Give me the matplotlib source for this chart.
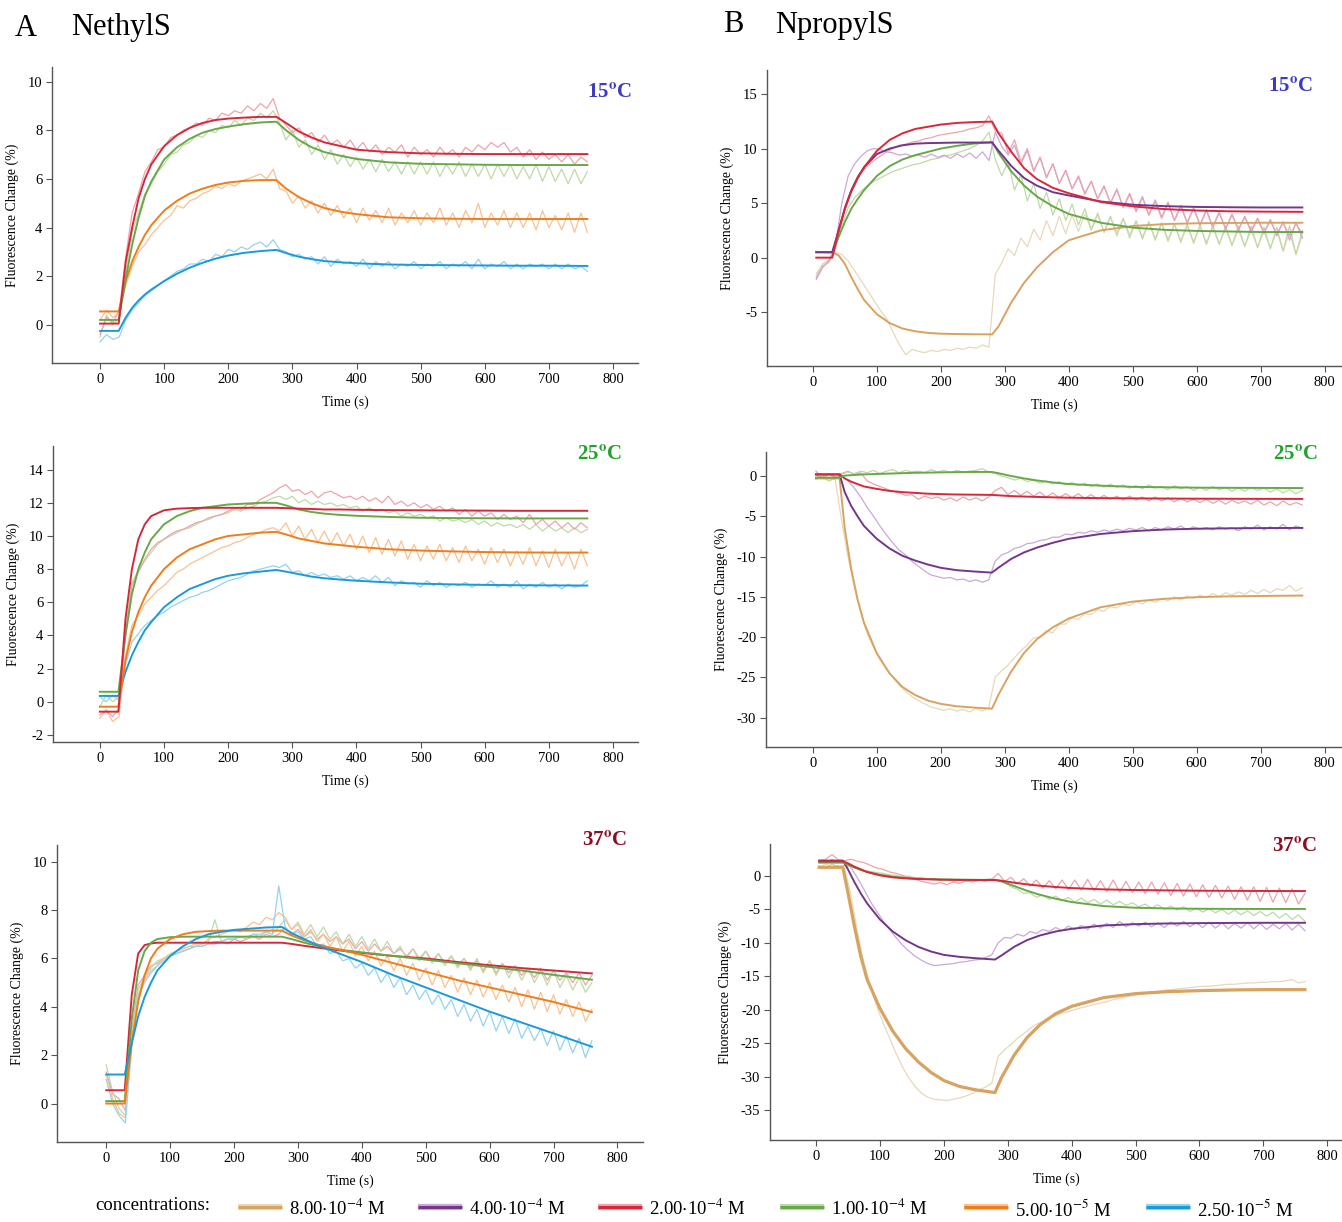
import numpy as np
import matplotlib.pyplot as plt
from matplotlib.lines import Line2D

plt.rcParams['font.family'] = ['Liberation Serif', 'DejaVu Serif']
plt.rcParams['mathtext.fontset'] = 'stix'
plt.rcParams['axes.unicode_minus'] = False

# ---- time axes ----
RAW_T_A = np.arange(0, 761, 10)
RAW_T_B = np.arange(5, 766, 10)
FIT_T_A = [0, 29, 40, 50, 60, 70, 80, 100, 120, 140, 160, 180, 200, 225, 250, 275,
           290, 310, 330, 350, 375, 400, 450, 500, 550, 600, 650, 700, 760]
FIT_T_B1 = [5, 30, 40, 50, 60, 70, 80, 100, 120, 140, 160, 180, 200, 225, 250, 280,
            290, 310, 330, 350, 375, 400, 450, 500, 550, 600, 650, 700, 765]
FIT_T_B = [5, 42, 50, 60, 70, 80, 100, 120, 140, 160, 180, 200, 225, 250, 280,
           290, 310, 330, 350, 375, 400, 450, 500, 550, 600, 650, 700, 765]

# ---- A: NethylS, 15 C ----
A15_RED_FIT = [0.05, 0.05, 2.6, 4.0, 5.2, 6.0, 6.6, 7.35, 7.8, 8.1, 8.3, 8.42, 8.48, 8.52, 8.55, 8.55,
               8.3, 7.95, 7.7, 7.5, 7.35, 7.2, 7.1, 7.05, 7.03, 7.02, 7.02, 7.02, 7.02]
A15_GREEN_FIT = [0.2, 0.2, 1.9, 3.3, 4.4, 5.3, 5.9, 6.8, 7.3, 7.65, 7.9, 8.05, 8.15, 8.25, 8.32, 8.35,
                 8.0, 7.6, 7.3, 7.1, 6.95, 6.82, 6.68, 6.62, 6.6, 6.58, 6.57, 6.57, 6.57]
A15_ORANGE_FIT = [0.55, 0.55, 1.8, 2.6, 3.2, 3.7, 4.1, 4.7, 5.1, 5.4, 5.6, 5.75, 5.85, 5.92, 5.95, 5.95,
                  5.6, 5.25, 5.0, 4.8, 4.65, 4.55, 4.42, 4.38, 4.36, 4.35, 4.35, 4.35, 4.35]
A15_BLUE_FIT = [-0.25, -0.25, 0.3, 0.7, 1.0, 1.25, 1.45, 1.8, 2.1, 2.35, 2.55, 2.72, 2.85, 2.96, 3.03, 3.08,
                2.95, 2.8, 2.7, 2.62, 2.57, 2.53, 2.48, 2.46, 2.45, 2.44, 2.43, 2.43, 2.42]
A15_RED_RAW = [-0.4, 0.3, 0.1, 0.6, 2.8, 4.6, 5.4, 6.3, 6.7, 7.2, 7.3,
               7.7, 7.8, 8.0, 8.1, 8.3, 8.2, 8.5, 8.4, 8.7, 8.6, 8.8,
               8.7, 9.0, 8.8, 9.1, 8.9, 9.3, 8.5, 8.2, 7.9, 8.1, 7.7,
               7.9, 7.5, 7.8, 7.4, 7.6, 7.3, 7.6, 7.2, 7.5, 7.1, 7.4,
               7.0, 7.3, 7.1, 7.4, 6.9, 7.3, 7.0, 7.2, 6.9, 7.3, 7.0,
               7.2, 6.9, 7.3, 7.1, 7.4, 7.2, 7.5, 7.3, 7.5, 7.1, 7.3,
               6.9, 7.2, 6.8, 7.1, 6.8, 7.0, 6.7, 7.0, 6.6, 6.9, 6.7]
A15_GREEN_RAW = [-0.5, 0.4, 0.0, 0.3, 2.2, 3.8, 4.6, 5.4, 5.8, 6.3, 6.6,
                 7.0, 7.1, 7.4, 7.5, 7.8, 7.7, 8.0, 7.9, 8.2, 8.1, 8.4,
                 8.2, 8.5, 8.4, 8.7, 8.5, 8.8, 8.3, 7.6, 8.0, 7.3, 7.6,
                 7.0, 7.4, 6.8, 7.2, 6.6, 7.0, 6.5, 6.9, 6.4, 6.8, 6.3,
                 6.8, 6.3, 6.7, 6.2, 6.7, 6.2, 6.7, 6.2, 6.7, 6.1, 6.6,
                 6.2, 6.7, 6.1, 6.6, 6.1, 6.6, 6.0, 6.6, 6.1, 6.6, 6.0,
                 6.5, 6.0, 6.6, 5.9, 6.5, 5.9, 6.4, 5.8, 6.4, 5.8, 6.3]
A15_ORANGE_RAW = [0.2, 0.6, 0.3, 0.5, 1.6, 2.4, 3.0, 3.3, 3.7, 4.0, 4.3,
                  4.5, 4.9, 4.8, 5.1, 5.2, 5.4, 5.5, 5.7, 5.6, 5.8, 5.7,
                  5.9, 6.0, 6.1, 6.2, 6.0, 6.4, 5.6, 5.5, 5.0, 5.3, 4.8,
                  5.1, 4.6, 5.0, 4.5, 4.9, 4.4, 4.8, 4.2, 4.8, 4.3, 4.7,
                  4.2, 4.8, 4.1, 4.6, 4.2, 4.7, 4.1, 4.6, 4.2, 4.8, 4.1,
                  4.6, 4.0, 4.7, 4.2, 5.0, 4.0, 4.6, 4.1, 4.7, 4.0, 4.6,
                  4.0, 4.6, 3.9, 4.7, 4.0, 4.5, 3.9, 4.6, 3.8, 4.6, 3.8]
A15_BLUE_RAW = [-0.7, -0.4, -0.6, -0.5, 0.2, 0.6, 0.9, 1.2, 1.4, 1.6, 1.8,
                2.0, 2.2, 2.3, 2.5, 2.5, 2.7, 2.6, 2.9, 2.8, 3.1, 3.0,
                3.2, 3.1, 3.3, 3.4, 3.2, 3.5, 3.1, 3.0, 2.8, 2.9, 2.7,
                2.8, 2.5, 2.8, 2.4, 2.7, 2.5, 2.6, 2.4, 2.7, 2.3, 2.6,
                2.4, 2.6, 2.3, 2.5, 2.4, 2.6, 2.3, 2.5, 2.4, 2.6, 2.3,
                2.5, 2.4, 2.6, 2.3, 2.7, 2.3, 2.5, 2.4, 2.6, 2.3, 2.5,
                2.3, 2.5, 2.4, 2.5, 2.3, 2.5, 2.3, 2.5, 2.3, 2.4, 2.2]

# ---- A: NethylS, 25 C ----
A25_RED_FIT = [-0.6, -0.6, 5.0, 8.0, 9.8, 10.7, 11.2, 11.55, 11.65, 11.68, 11.7, 11.7, 11.7, 11.7, 11.7, 11.7,
               11.68, 11.65, 11.63, 11.6, 11.6, 11.58, 11.56, 11.55, 11.54, 11.53, 11.52, 11.52, 11.52]
A25_GREEN_FIT = [0.6, 0.6, 4.0, 6.5, 8.0, 9.0, 9.8, 10.7, 11.2, 11.5, 11.7, 11.8, 11.9, 11.95, 12.0, 12.0,
                 11.85, 11.6, 11.45, 11.35, 11.27, 11.22, 11.15, 11.1, 11.08, 11.07, 11.06, 11.06, 11.06]
A25_ORANGE_FIT = [-0.3, -0.3, 2.5, 4.2, 5.4, 6.3, 7.0, 8.0, 8.7, 9.2, 9.5, 9.8, 10.0, 10.1, 10.2, 10.25,
                  10.1, 9.85, 9.7, 9.55, 9.45, 9.35, 9.2, 9.12, 9.07, 9.03, 9.01, 9.0, 9.0]
A25_BLUE_FIT = [0.35, 0.35, 1.8, 2.8, 3.6, 4.3, 4.8, 5.7, 6.3, 6.8, 7.1, 7.4, 7.6, 7.75, 7.85, 7.95,
                7.85, 7.7, 7.55, 7.45, 7.37, 7.3, 7.2, 7.12, 7.08, 7.05, 7.03, 7.02, 7.01]
A25_RED_RAW = [-0.8, -0.5, -0.9, -0.4, 4.0, 7.0, 7.8, 8.6, 9.2, 9.6, 9.8,
               10.1, 10.3, 10.4, 10.6, 10.8, 10.9, 11.1, 11.2, 11.3, 11.5, 11.7,
               11.6, 11.9, 11.9, 12.2, 12.4, 12.6, 12.9, 13.1, 12.7, 12.8, 12.5,
               12.7, 12.3, 12.6, 12.7, 12.5, 12.3, 12.4, 12.2, 12.4, 12.1, 12.3,
               12.0, 12.4, 11.9, 12.1, 11.8, 12.0, 11.7, 11.9, 11.6, 11.8, 11.5,
               11.7, 11.3, 11.6, 11.2, 11.5, 11.2, 11.4, 11.0, 11.3, 11.0, 11.2,
               10.8, 11.3, 10.7, 11.0, 10.6, 10.9, 10.5, 10.8, 10.4, 10.8, 10.5]
A25_GREEN_RAW = [-0.3, 0.4, 0.0, 0.3, 4.2, 7.2, 7.9, 8.5, 9.0, 9.5, 9.8,
                 10.0, 10.2, 10.4, 10.5, 10.7, 10.9, 11.0, 11.2, 11.3, 11.4, 11.6,
                 11.5, 11.7, 11.8, 12.0, 12.1, 12.3, 12.4, 12.2, 12.4, 12.0, 12.2,
                 11.9, 12.1, 11.9, 12.0, 11.8, 11.9, 11.7, 11.8, 11.5, 11.7, 11.5,
                 11.6, 11.4, 11.5, 11.2, 11.4, 11.2, 11.3, 11.1, 11.2, 10.9, 11.1,
                 10.9, 11.0, 10.8, 11.0, 10.7, 10.9, 10.6, 10.8, 10.6, 10.7, 10.5,
                 10.7, 10.4, 10.7, 10.3, 10.6, 10.3, 10.5, 10.2, 10.5, 10.2, 10.4]
A25_ORANGE_RAW = [-1.0, -0.5, -1.2, -0.9, 2.8, 4.6, 5.2, 5.9, 6.3, 6.7, 7.0,
                  7.4, 7.8, 8.0, 8.3, 8.5, 8.7, 8.9, 9.1, 9.3, 9.4, 9.6,
                  9.7, 9.9, 10.1, 10.2, 10.4, 10.5, 10.3, 10.8, 10.0, 10.6, 9.8,
                  10.4, 9.6, 10.3, 9.5, 10.2, 9.4, 10.1, 9.2, 10.0, 9.0, 9.9,
                  8.9, 9.8, 8.8, 9.7, 8.6, 9.5, 8.5, 9.4, 8.6, 9.5, 8.5,
                  9.3, 8.4, 9.4, 8.5, 9.2, 8.3, 9.3, 8.4, 9.2, 8.2, 9.1,
                  8.3, 9.3, 8.2, 9.1, 8.1, 9.2, 8.2, 9.0, 8.0, 9.2, 8.2]
A25_BLUE_RAW = [0.3, 0.0, 0.4, 0.1, 2.2, 3.6, 4.1, 4.6, 4.9, 5.2, 5.4,
                5.7, 5.9, 6.1, 6.3, 6.4, 6.6, 6.7, 6.9, 7.1, 7.3, 7.4,
                7.5, 7.7, 7.9, 8.0, 8.1, 8.2, 8.1, 8.3, 7.8, 7.9, 7.6,
                7.8, 7.6, 7.7, 7.5, 7.6, 7.4, 7.6, 7.3, 7.5, 7.3, 7.6,
                7.2, 7.5, 7.0, 7.3, 7.1, 7.2, 6.9, 7.3, 7.0, 7.2, 6.9,
                7.1, 7.0, 7.2, 6.9, 7.1, 7.0, 7.3, 6.9, 7.1, 6.9, 7.3,
                6.8, 7.1, 6.9, 7.2, 6.9, 7.1, 6.8, 7.1, 6.9, 7.0, 7.3]

# ---- A: NethylS, 37 C ----
A37_RED_FIT = [0.55, 0.55, 4.5, 6.2, 6.55, 6.62, 6.65, 6.65, 6.65, 6.65, 6.65, 6.65, 6.65, 6.65, 6.65, 6.65,
               6.6, 6.52, 6.45, 6.38, 6.3, 6.23, 6.1, 6.0, 5.85, 5.72, 5.6, 5.5, 5.38]
A37_GREEN_FIT = [0.1, 0.1, 3.5, 5.5, 6.3, 6.65, 6.8, 6.88, 6.9, 6.9, 6.9, 6.9, 6.9, 6.9, 6.9, 6.9,
                 6.8, 6.65, 6.52, 6.43, 6.33, 6.25, 6.1, 5.95, 5.8, 5.65, 5.5, 5.32, 5.12]
A37_ORANGE_FIT = [0.0, 0.0, 2.5, 4.2, 5.3, 6.0, 6.4, 6.8, 7.0, 7.1, 7.13, 7.15, 7.15, 7.15, 7.15, 7.15,
                  6.95, 6.75, 6.58, 6.45, 6.3, 6.15, 5.8, 5.45, 5.1, 4.8, 4.5, 4.2, 3.78]
A37_BLUE_FIT = [1.2, 1.2, 2.5, 3.6, 4.4, 5.0, 5.5, 6.1, 6.5, 6.8, 7.0, 7.1, 7.18, 7.23, 7.28, 7.3,
                7.05, 6.8, 6.55, 6.35, 6.1, 5.85, 5.3, 4.8, 4.3, 3.8, 3.35, 2.9, 2.35]
A37_RED_RAW = [1.3, 0.4, 0.2, -0.3, 3.0, 4.9, 5.3, 5.7, 5.8, 6.0, 6.1,
               6.2, 6.3, 6.4, 6.5, 6.5, 6.6, 6.6, 6.7, 6.6, 6.8, 6.7,
               6.8, 6.9, 6.8, 7.0, 6.9, 7.0, 7.3, 7.0, 7.2, 6.9, 7.1,
               6.8, 7.0, 6.7, 6.9, 6.6, 6.8, 6.4, 6.7, 6.3, 6.6, 6.3,
               6.5, 6.2, 6.4, 6.1, 6.4, 6.0, 6.3, 5.9, 6.2, 5.8, 6.1,
               5.7, 6.0, 5.6, 5.9, 5.5, 5.9, 5.4, 5.8, 5.4, 5.7, 5.3,
               5.6, 5.2, 5.6, 5.1, 5.5, 5.1, 5.4, 5.0, 5.4, 4.9, 5.3]
A37_GREEN_RAW = [1.6, 0.5, -0.2, -0.5, 2.8, 4.7, 5.2, 5.6, 5.9, 6.0, 6.2,
                 6.3, 6.4, 6.5, 6.5, 6.6, 6.7, 7.6, 6.7, 6.8, 6.8, 6.9,
                 6.8, 7.0, 6.9, 7.1, 7.0, 7.3, 7.6, 7.2, 7.5, 7.0, 7.4,
                 6.9, 7.3, 6.8, 7.1, 6.6, 7.0, 6.5, 6.9, 6.4, 6.8, 6.3,
                 6.7, 6.2, 6.5, 6.0, 6.4, 5.9, 6.3, 5.8, 6.2, 5.7, 6.1,
                 5.6, 6.0, 5.5, 6.0, 5.4, 5.9, 5.3, 5.8, 5.2, 5.7, 5.1,
                 5.6, 5.0, 5.5, 4.9, 5.5, 4.8, 5.3, 4.7, 5.2, 4.6, 5.0]
A37_ORANGE_RAW = [1.2, 0.2, -0.4, -0.6, 2.6, 4.5, 5.1, 5.5, 5.7, 6.0, 6.1,
                  6.3, 6.4, 6.5, 6.6, 6.6, 6.8, 6.9, 7.0, 7.1, 7.2, 7.1,
                  7.3, 7.5, 7.4, 7.7, 7.6, 7.9, 7.7, 7.2, 7.4, 6.9, 7.2,
                  6.7, 7.0, 6.5, 6.9, 6.3, 6.7, 6.1, 6.5, 5.9, 6.3, 5.7,
                  6.1, 5.5, 6.0, 5.3, 5.8, 5.1, 5.6, 4.9, 5.5, 4.8, 5.3,
                  4.6, 5.2, 4.5, 5.1, 4.4, 5.0, 4.3, 4.9, 4.2, 4.8, 4.0,
                  4.7, 3.9, 4.6, 3.8, 4.5, 3.7, 4.3, 3.6, 4.2, 3.4, 3.9]
A37_BLUE_RAW = [1.0, 0.0, -0.5, -0.8, 2.4, 4.4, 5.0, 5.4, 5.7, 5.9, 6.1,
                6.2, 6.3, 6.4, 6.5, 6.5, 6.6, 6.7, 6.7, 6.8, 6.8, 6.9,
                6.9, 7.0, 7.0, 7.1, 7.0, 9.0, 7.3, 7.0, 7.1, 6.8, 6.9,
                6.5, 6.6, 6.2, 6.3, 5.9, 6.0, 5.6, 5.8, 5.3, 5.6, 5.0,
                5.4, 4.8, 5.2, 4.5, 4.9, 4.3, 4.7, 4.1, 4.5, 3.9, 4.3,
                3.6, 4.1, 3.4, 3.9, 3.2, 3.8, 3.0, 3.6, 2.9, 3.5, 2.7,
                3.2, 2.6, 3.1, 2.4, 3.0, 2.2, 2.8, 2.1, 2.7, 1.9, 2.6]

# ---- B: NpropylS, 15 C ----
B15_RED_FIT = [0.0, 0.0, 2.5, 4.5, 6.1, 7.3, 8.3, 9.8, 10.8, 11.4, 11.8, 12.0, 12.2, 12.35, 12.42, 12.47,
               11.4, 9.7, 8.2, 7.2, 6.4, 5.9, 5.1, 4.7, 4.45, 4.32, 4.25, 4.22, 4.2]
B15_PURPLE_FIT = [0.5, 0.5, 2.5, 4.6, 6.2, 7.4, 8.3, 9.5, 10.0, 10.3, 10.45, 10.5, 10.52, 10.55, 10.55, 10.55,
                  9.8, 8.4, 7.3, 6.6, 6.0, 5.7, 5.15, 4.85, 4.72, 4.65, 4.62, 4.6, 4.6]
B15_GREEN_FIT = [0.5, 0.5, 1.9, 3.3, 4.5, 5.4, 6.2, 7.5, 8.4, 9.0, 9.4, 9.7, 10.0, 10.25, 10.45, 10.6,
                 9.6, 7.9, 6.6, 5.6, 4.7, 4.0, 3.2, 2.75, 2.55, 2.45, 2.4, 2.35, 2.35]
B15_TAN_FIT = [0.5, 0.5, 0.2, -0.6, -1.8, -2.9, -3.9, -5.2, -6.0, -6.5, -6.75, -6.9, -6.97, -7.0, -7.02, -7.03,
               -6.3, -4.1, -2.3, -0.9, 0.5, 1.6, 2.5, 2.9, 3.08, 3.15, 3.18, 3.2, 3.2]
B15_RED_RAW = [-1.8, -0.8, -0.4, 0.8, 3.5, 5.5, 6.8, 7.8, 8.4, 8.9, 9.3,
               9.7, 10.0, 10.3, 10.4, 10.6, 10.7, 10.9, 11.0, 11.2, 11.3, 11.4,
               11.5, 11.6, 11.8, 11.9, 12.1, 13.0, 11.6, 11.4, 9.6, 10.8, 8.8,
               10.0, 8.0, 9.2, 7.4, 8.6, 6.8, 8.0, 6.3, 7.4, 5.8, 7.0,
               5.4, 6.5, 5.0, 6.2, 4.6, 5.8, 4.2, 5.5, 3.9, 5.2, 3.6,
               5.0, 3.4, 4.7, 3.2, 4.5, 3.0, 4.3, 2.8, 4.1, 2.7, 3.9,
               2.6, 3.7, 2.5, 3.6, 2.3, 3.4, 2.2, 3.2, 2.0, 3.1, 2.2]
B15_PURPLE_RAW = [-2.0, -0.9, -0.3, 1.2, 5.0, 7.5, 8.6, 9.3, 9.8, 10.0, 9.9,
                  9.7, 9.6, 9.4, 9.5, 9.3, 9.4, 9.2, 9.5, 9.2, 9.4, 9.1,
                  9.5, 9.2, 9.6, 9.1, 9.7, 8.9, 11.5, 10.2, 9.4, 10.3, 8.6,
                  9.8, 7.9, 9.2, 7.3, 8.6, 6.8, 8.0, 6.3, 7.5, 5.9, 7.0,
                  5.4, 6.6, 5.0, 6.3, 4.6, 5.9, 4.3, 5.6, 3.9, 5.3, 3.7,
                  5.1, 3.4, 4.8, 3.2, 4.6, 3.0, 4.4, 2.8, 4.2, 2.6, 4.0,
                  2.5, 3.8, 2.3, 3.6, 2.2, 3.5, 2.0, 3.3, 1.6, 3.2, 1.8]
B15_GREEN_RAW = [-1.5, -0.6, -0.2, 0.9, 3.0, 4.6, 5.5, 6.1, 6.6, 7.0, 7.3,
                 7.6, 7.9, 8.1, 8.3, 8.5, 8.6, 8.8, 9.0, 9.1, 9.3, 9.4,
                 9.6, 9.8, 10.0, 10.3, 10.7, 11.5, 9.0, 7.5, 8.8, 6.2, 7.6,
                 5.2, 6.8, 4.5, 6.0, 3.9, 5.4, 3.4, 4.9, 3.0, 4.5, 2.6,
                 4.1, 2.3, 3.8, 2.0, 3.6, 1.8, 3.4, 1.7, 3.3, 1.6, 3.2,
                 1.5, 3.1, 1.4, 3.1, 1.3, 3.0, 1.2, 3.0, 1.2, 2.9, 1.1,
                 2.9, 1.0, 2.9, 0.9, 2.8, 0.8, 2.8, 0.6, 2.9, 0.3, 2.5]
B15_TAN_RAW = [0.6, 0.5, 0.4, 0.5, 0.3, -0.3, -1.2, -2.1, -3.0, -3.9, -4.8,
               -5.6, -6.8, -8.0, -8.9, -8.4, -8.6, -8.7, -8.5, -8.6, -8.4, -8.5,
               -8.3, -8.4, -8.2, -8.3, -8.0, -8.2, -1.5, -0.5, 0.8, 0.2, 1.8,
               1.0, 2.6, 1.6, 3.4, 2.0, 3.8, 2.2, 3.9, 2.4, 4.0, 2.5,
               3.9, 2.4, 3.7, 2.3, 3.6, 2.1, 3.3, 1.9, 3.2, 1.8, 3.1,
               1.7, 3.0, 1.6, 2.9, 1.5, 2.8, 1.4, 2.7, 1.3, 2.6, 1.2,
               2.5, 1.1, 2.5, 1.0, 2.4, 0.9, 2.4, 0.6, 2.3, 0.3, 2.0]

# ---- B: NpropylS, 25 C ----
B25_GREEN_FIT = [-0.2, -0.2, 0.05, 0.1, 0.15, 0.2, 0.25, 0.3, 0.35, 0.4, 0.42, 0.45, 0.48, 0.5, 0.5,
                 0.35, 0.0, -0.3, -0.55, -0.8, -1.0, -1.2, -1.35, -1.4, -1.45, -1.47, -1.48, -1.5]
B25_RED_FIT = [0.2, 0.2, -0.3, -0.7, -1.0, -1.3, -1.6, -1.85, -2.0, -2.1, -2.2, -2.25, -2.3, -2.32, -2.35,
               -2.4, -2.5, -2.55, -2.6, -2.65, -2.7, -2.75, -2.78, -2.8, -2.82, -2.83, -2.84, -2.85]
B25_PURPLE_FIT = [0.2, 0.2, -2.0, -3.7, -5.0, -6.2, -7.8, -9.0, -9.9, -10.5, -11.0, -11.4, -11.7, -11.85, -12.0,
                  -11.4, -10.3, -9.5, -8.9, -8.3, -7.8, -7.2, -6.85, -6.65, -6.55, -6.5, -6.47, -6.45]
B25_TAN_FIT = [-0.3, -0.3, -6.5, -11.5, -15.3, -18.2, -22.0, -24.5, -26.2, -27.2, -27.9, -28.3, -28.6, -28.75, -28.9,
               -27.2, -24.3, -22.0, -20.3, -18.8, -17.7, -16.3, -15.6, -15.25, -15.05, -14.95, -14.9, -14.85]
B25_GREEN_RAW = [-0.4, 0.2, -0.6, -0.3, 0.2, 0.5, 0.3, 0.6, 0.4, 0.7, 0.3,
                 0.6, 0.8, 0.4, 0.7, 0.5, 0.6, 0.4, 0.8, 0.5, 0.7, 0.4,
                 0.7, 0.5, 0.6, 0.7, 0.9, 0.5, 0.3, 0.0, -0.2, -0.5, -0.3,
                 -0.7, -0.5, -0.9, -0.6, -1.0, -0.7, -1.1, -0.8, -1.2, -0.9, -1.3,
                 -1.0, -1.4, -1.0, -1.4, -1.1, -1.5, -1.2, -1.6, -1.1, -1.5, -1.3,
                 -1.7, -1.2, -1.6, -1.3, -1.8, -1.4, -1.8, -1.3, -1.7, -1.4, -1.9,
                 -1.5, -1.9, -1.4, -1.8, -1.5, -2.0, -1.6, -2.1, -1.7, -2.2, -1.8]
B25_RED_RAW = [0.6, -0.2, 0.3, -0.2, 0.3, 0.6, 0.2, 0.4, -0.6, -1.0, -1.3,
               -1.6, -1.9, -2.1, -2.4, -2.3, -2.9, -2.5, -2.8, -2.6, -3.0, -2.7,
               -3.1, -2.6, -3.0, -2.7, -3.1, -2.6, -1.8, -1.4, -2.3, -1.8, -2.4,
               -1.9, -2.5, -2.0, -2.6, -2.1, -2.7, -2.2, -2.7, -2.2, -2.8, -2.3,
               -2.9, -2.4, -2.9, -2.5, -3.0, -2.5, -3.0, -2.6, -3.1, -2.6, -3.1,
               -2.7, -3.2, -2.8, -3.2, -2.9, -3.3, -2.9, -3.4, -3.0, -3.5, -3.0,
               -3.4, -3.1, -3.5, -3.0, -3.6, -3.2, -3.7, -3.1, -3.6, -3.3, -3.6]
B25_PURPLE_RAW = [0.1, -0.2, 0.2, -0.1, 0.0, -0.6, -1.5, -2.6, -3.9, -5.0, -6.2,
                  -7.3, -8.3, -9.2, -9.8, -10.6, -11.2, -11.8, -12.3, -12.5, -12.7, -12.6,
                  -12.9, -12.8, -13.1, -12.9, -13.2, -12.9, -10.6, -9.8, -9.5, -9.0, -8.8,
                  -8.4, -8.3, -8.0, -7.9, -7.6, -7.6, -7.2, -7.3, -7.0, -7.1, -6.8,
                  -7.0, -6.7, -6.9, -6.6, -6.8, -6.5, -6.7, -6.4, -6.8, -6.4, -6.7,
                  -6.3, -6.6, -6.2, -6.7, -6.3, -6.6, -6.4, -6.7, -6.3, -6.6, -6.4,
                  -6.8, -6.3, -6.6, -6.1, -6.7, -6.3, -6.6, -6.0, -6.7, -6.2, -6.5]
B25_TAN_RAW = [-0.4, -0.2, -0.6, -0.3, -5.5, -10.0, -13.8, -17.0, -19.6, -21.3, -22.8,
               -24.0, -25.0, -26.0, -26.7, -27.4, -27.9, -28.3, -28.7, -28.9, -29.1, -28.9,
               -29.2, -29.0, -29.3, -28.9, -29.2, -28.8, -25.0, -24.2, -23.5, -22.6, -21.7,
               -21.0, -20.1, -20.0, -19.2, -19.5, -18.4, -18.4, -17.6, -17.8, -17.1, -17.2,
               -16.6, -16.8, -16.2, -16.4, -15.9, -16.1, -15.6, -15.9, -15.4, -15.7, -15.2,
               -15.5, -15.0, -15.4, -14.9, -15.2, -14.8, -15.1, -14.6, -15.0, -14.5, -14.8,
               -14.4, -14.7, -14.2, -14.6, -14.1, -14.5, -14.0, -14.2, -13.6, -14.3, -13.9]

# ---- B: NpropylS, 37 C ----
B37_RED_FIT = [2.2, 2.2, 1.9, 1.4, 1.0, 0.6, 0.1, -0.2, -0.35, -0.45, -0.5, -0.55, -0.58, -0.6, -0.6,
               -0.7, -1.0, -1.25, -1.45, -1.65, -1.8, -2.0, -2.1, -2.15, -2.2, -2.22, -2.24, -2.25]
B37_GREEN_FIT = [2.0, 2.0, 1.7, 1.3, 0.9, 0.6, 0.2, -0.1, -0.3, -0.4, -0.48, -0.52, -0.55, -0.57, -0.6,
                 -0.8, -1.5, -2.2, -2.8, -3.4, -3.9, -4.5, -4.75, -4.85, -4.9, -4.92, -4.93, -4.93]
B37_PURPLE_FIT = [2.3, 2.3, 1.0, -0.9, -2.6, -4.1, -6.5, -8.3, -9.6, -10.6, -11.3, -11.8, -12.1, -12.3, -12.5,
                  -11.9, -10.6, -9.6, -8.9, -8.3, -7.9, -7.4, -7.2, -7.1, -7.05, -7.02, -7.0, -7.0]
B37_TAN_FIT = [1.3, 1.3, -2.5, -7.5, -12.0, -15.5, -19.8, -23.2, -25.8, -27.8, -29.4, -30.6, -31.5, -32.0, -32.4,
               -30.2, -26.8, -24.2, -22.3, -20.6, -19.5, -18.2, -17.6, -17.3, -17.15, -17.05, -17.0, -17.0]
B37_RED_RAW = [2.3, 2.5, 3.2, 2.4, 2.3, 2.5, 2.2, 2.0, 1.6, 1.2, 1.0,
               0.6, 0.4, 0.1, -0.2, -0.5, -0.8, -1.0, -1.2, -1.0, -1.3, -0.9,
               -1.1, -0.7, -0.9, -0.6, -0.8, -0.5, 0.4, -0.8, -0.2, -1.2, -0.4,
               -1.5, -0.6, -1.8, -0.7, -1.9, -0.6, -2.0, -0.6, -2.1, -0.5, -2.2,
               -0.7, -2.3, -0.6, -2.4, -0.8, -2.5, -0.9, -2.6, -0.9, -2.7, -1.0,
               -2.9, -1.1, -3.0, -1.2, -3.1, -1.3, -3.2, -1.4, -3.3, -1.5, -3.5,
               -1.6, -3.6, -1.6, -3.8, -1.7, -3.9, -1.8, -4.0, -1.9, -4.2, -2.6]
B37_GREEN_RAW = [1.5, 1.2, 1.8, 1.4, 1.6, 1.3, 1.1, 0.8, 0.7, 0.5, 0.4,
                 0.2, 0.1, -0.1, 0.0, -0.3, -0.2, -0.5, -0.4, -0.7, -0.5, -0.8,
                 -0.6, -0.8, -0.6, -0.7, -0.5, -0.4, -0.6, -1.0, -1.6, -2.0, -2.6,
                 -2.5, -3.2, -2.8, -3.5, -3.0, -3.7, -3.2, -3.9, -3.3, -4.0, -3.5,
                 -4.2, -3.6, -4.3, -3.8, -4.4, -4.0, -4.6, -4.2, -4.8, -4.3, -5.0,
                 -4.5, -5.1, -4.6, -5.3, -4.8, -5.4, -4.9, -5.5, -5.0, -5.7, -5.1,
                 -5.8, -5.2, -5.9, -5.3, -6.0, -5.4, -6.3, -5.6, -6.5, -5.8, -6.8]
B37_PURPLE_RAW = [2.4, 2.0, 2.5, 2.1, 2.2, 1.2, -0.3, -2.0, -3.8, -5.3, -6.7,
                  -8.0, -9.2, -10.3, -11.2, -12.0, -12.6, -13.1, -13.4, -13.3, -13.2, -13.1,
                  -12.9, -12.8, -12.6, -12.5, -12.2, -11.8, -10.0, -9.2, -9.3, -8.7, -9.0,
                  -8.3, -8.6, -8.0, -8.3, -7.7, -8.2, -7.5, -8.0, -7.4, -8.0, -7.2,
                  -7.8, -7.1, -7.7, -6.8, -7.6, -7.0, -7.5, -6.9, -7.6, -7.0, -7.7,
                  -6.9, -7.5, -6.8, -7.6, -7.0, -7.7, -6.9, -7.8, -7.0, -7.9, -7.1,
                  -7.8, -7.0, -7.9, -7.1, -8.0, -7.2, -7.9, -7.1, -8.1, -7.2, -8.2]
B37_TAN_RAW = [1.3, 1.8, 1.4, 1.6, 1.0, -3.0, -8.5, -13.0, -16.5, -19.5, -22.0,
               -24.2, -26.5, -28.5, -30.2, -31.5, -32.5, -33.1, -33.4, -33.5, -33.6, -33.4,
               -33.2, -32.9, -32.5, -32.0, -31.6, -31.0, -27.0, -26.0, -25.2, -24.3, -23.6,
               -22.8, -22.2, -21.7, -21.2, -20.9, -20.5, -20.3, -20.0, -19.7, -19.5, -19.2,
               -19.0, -18.8, -18.5, -18.3, -18.1, -17.9, -17.7, -17.6, -17.4, -17.3, -17.1,
               -17.0, -16.9, -16.8, -16.7, -16.6, -16.5, -16.5, -16.4, -16.3, -16.2, -16.2,
               -16.1, -16.0, -16.0, -15.9, -15.9, -15.8, -15.8, -15.7, -15.5, -16.0, -15.8]

# ---- legend ----
CONC_KEYS = ['tan', 'purple', 'red', 'green', 'orange', 'blue']
CONC_LABELS = ['8.00$\\cdot$10$^{-4}$ M', '4.00$\\cdot$10$^{-4}$ M', '2.00$\\cdot$10$^{-4}$ M',
               '1.00$\\cdot$10$^{-4}$ M', '5.00$\\cdot$10$^{-5}$ M', '2.50$\\cdot$10$^{-5}$ M']

FIT_COL = {'tan': '#d8a360', 'purple': '#74368a', 'red': '#d7283b',
           'green': '#68a84a', 'orange': '#f07d1c', 'blue': '#1c9ad8'}
RAW_COL = {'tan': '#e8d8bc', 'purple': '#caa9d7', 'red': '#efa3aa',
           'green': '#bedaa6', 'orange': '#f8c292', 'blue': '#93d3f0'}

W, H = 1342, 1222
fig = plt.figure(figsize=(W / 100, H / 100), dpi=100)


def box(l, t, r, b):
    return [l / W, 1 - b / H, (r - l) / W, (b - t) / H]


panels = [
    dict(box=(52, 67, 638, 363), xlim=(-75, 839), ylim=(-1.57, 10.6), yticks=range(0, 11, 2),
         temp='15', tcol='#3b3bc4', tpos=(0.99, 0.912), raw_t=RAW_T_A, fit_t=FIT_T_A,
         series=[('blue', A15_BLUE_RAW, A15_BLUE_FIT), ('orange', A15_ORANGE_RAW, A15_ORANGE_FIT),
                 ('green', A15_GREEN_RAW, A15_GREEN_FIT), ('red', A15_RED_RAW, A15_RED_FIT)]),
    dict(box=(53, 446, 638, 742), xlim=(-73, 839), ylim=(-2.43, 15.43), yticks=range(-2, 15, 2),
         temp='25', tcol='#1fa32a', tpos=(0.973, 0.97), raw_t=RAW_T_A, fit_t=FIT_T_A,
         series=[('blue', A25_BLUE_RAW, A25_BLUE_FIT), ('orange', A25_ORANGE_RAW, A25_ORANGE_FIT),
                 ('green', A25_GREEN_RAW, A25_GREEN_FIT), ('red', A25_RED_RAW, A25_RED_FIT)]),
    dict(box=(57, 845, 643, 1142), xlim=(-77, 840), ylim=(-1.59, 10.69), yticks=range(0, 11, 2),
         temp='37', tcol='#8a0f24', tpos=(0.973, 1.013), raw_t=RAW_T_A, fit_t=FIT_T_A,
         series=[('red', A37_RED_RAW, A37_RED_FIT), ('green', A37_GREEN_RAW, A37_GREEN_FIT),
                 ('orange', A37_ORANGE_RAW, A37_ORANGE_FIT), ('blue', A37_BLUE_RAW, A37_BLUE_FIT)]),
    dict(box=(767, 70, 1342, 366), xlim=(-72, 827), ylim=(-9.93, 17.2), yticks=range(-5, 16, 5),
         temp='15', tcol='#3b3bc4', tpos=(0.95, 0.943), raw_t=RAW_T_B, fit_t=FIT_T_B1,
         series=[('tan', B15_TAN_RAW, B15_TAN_FIT), ('green', B15_GREEN_RAW, B15_GREEN_FIT),
                 ('purple', B15_PURPLE_RAW, B15_PURPLE_FIT), ('red', B15_RED_RAW, B15_RED_FIT)]),
    dict(box=(766, 452, 1342, 747), xlim=(-73, 827), ylim=(-33.66, 2.98), yticks=range(-30, 1, 5),
         temp='25', tcol='#1fa32a', tpos=(0.958, 0.99), raw_t=RAW_T_B, fit_t=FIT_T_B,
         series=[('tan', B25_TAN_RAW, B25_TAN_FIT), ('purple', B25_PURPLE_RAW, B25_PURPLE_FIT),
                 ('red', B25_RED_RAW, B25_RED_FIT), ('green', B25_GREEN_RAW, B25_GREEN_FIT)]),
    dict(box=(770, 844, 1342, 1140), xlim=(-72, 823), ylim=(-39.5, 4.79), yticks=range(-35, 1, 5),
         temp='37', tcol='#8a0f24', tpos=(0.956, 0.99), raw_t=RAW_T_B, fit_t=FIT_T_B,
         series=[('tan', B37_TAN_RAW, B37_TAN_FIT), ('purple', B37_PURPLE_RAW, B37_PURPLE_FIT),
                 ('green', B37_GREEN_RAW, B37_GREEN_FIT), ('red', B37_RED_RAW, B37_RED_FIT)],
         thick=('tan',)),
]

for p in panels:
    ax = fig.add_axes(box(*p['box']))
    # raw traces first, fitted curves on top
    for key, raw, fit in p['series']:
        ax.plot(p['raw_t'], raw, color=RAW_COL[key], lw=0.9, zorder=1)
    for key, raw, fit in p['series']:
        lw = 2.3 if key in p.get('thick', ()) else 1.4
        ax.plot(p['fit_t'], fit, color=FIT_COL[key], lw=lw, zorder=3)

    ax.set_xlim(*p['xlim'])
    ax.set_ylim(*p['ylim'])
    ax.set_xticks(range(0, 801, 100))
    ax.set_yticks(list(p['yticks']))
    for s in ['top', 'right']:
        ax.spines[s].set_visible(False)
    for s in ['left', 'bottom']:
        ax.spines[s].set_color('#555555')
        ax.spines[s].set_linewidth(1.0)
    ax.tick_params(length=4, width=0.8, color='#555555', labelsize=10.5, pad=3)
    ax.set_xlabel('Time (s)', fontsize=10, labelpad=7)
    ax.set_ylabel('Fluorescence Change (%)', fontsize=10, labelpad=6)
    ax.text(p['tpos'][0], p['tpos'][1], p['temp'] + r'$^{\mathbf{o}}$C', transform=ax.transAxes,
            ha='right', va='center', fontsize=15, fontweight='bold', color=p['tcol'])

# panel titles
fig.text(15 / W, 1 - 28 / H, 'A', fontsize=22, va='center')
fig.text(71 / W, 1 - 28 / H, 'NethylS', fontsize=22, va='center')
fig.text(723 / W, 1 - 25 / H, 'B', fontsize=22, va='center')
fig.text(775 / W, 1 - 25 / H, 'NpropylS', fontsize=22, va='center')

# legend row at the bottom
LEG_X = [238, 418, 598, 780, 964, 1146]
yl = 1 - 1207 / H
fig.text(95 / W, 1 - 1205 / H, 'concentrations:', fontsize=13.5, va='center')
for x0, key, lab in zip(LEG_X, CONC_KEYS, CONC_LABELS):
    fig.add_artist(Line2D([x0 / W, (x0 + 44) / W], [yl, yl], transform=fig.transFigure,
                          color=RAW_COL[key], lw=4.5, solid_capstyle='butt'))
    fig.add_artist(Line2D([x0 / W, (x0 + 44) / W], [yl, yl], transform=fig.transFigure,
                          color=FIT_COL[key], lw=2.2, solid_capstyle='butt'))
    fig.text((x0 + 51) / W, 1 - 1209 / H, lab, fontsize=13.5, va='center')

fig.savefig('out.png', dpi=100)
